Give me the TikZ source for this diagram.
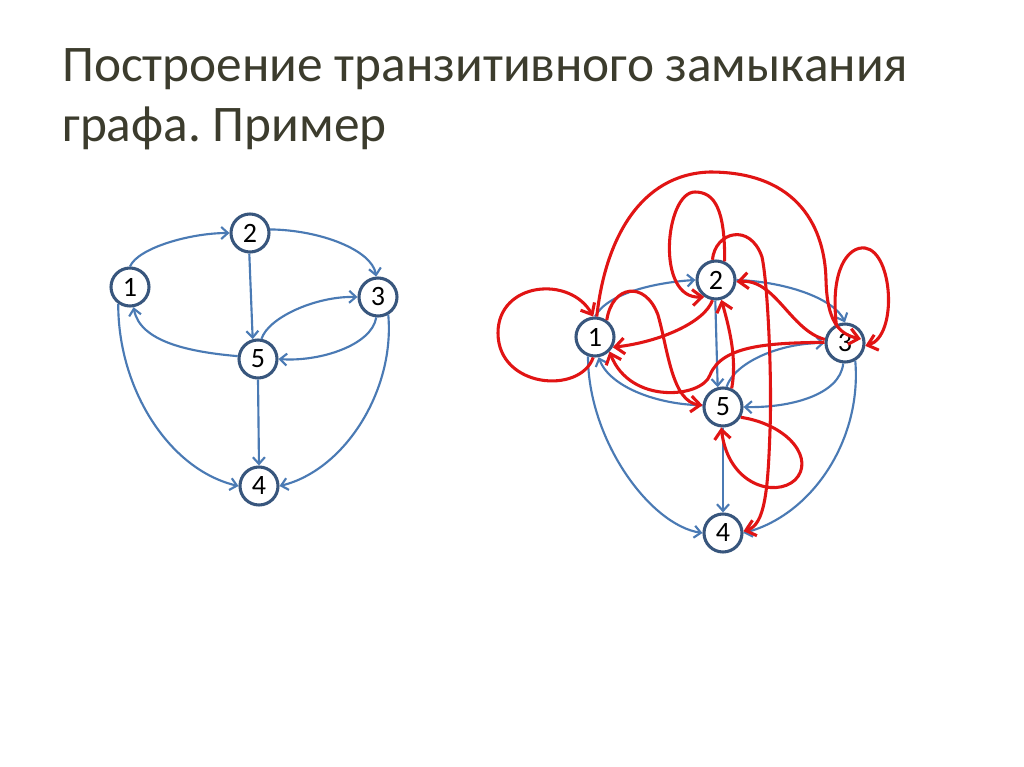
\documentclass[tikz,border=0pt]{standalone}
\usepackage{fontspec}
\setmainfont{Carlito}
\usetikzlibrary{arrows.meta}
\definecolor{titlecol}{RGB}{60,60,45}
\definecolor{nodecol}{RGB}{56,86,125}
\definecolor{edgeblue}{RGB}{74,122,180}
\definecolor{edgered}{RGB}{225,20,20}
\frenchspacing
\begin{document}
\begin{tikzpicture}[x=0.75pt,y=-0.75pt,
  vert/.style={circle,draw=nodecol,line width=2.3pt,fill=white,minimum size=28.5pt,inner sep=0pt,font=\fontsize{21}{21}\selectfont},
  bl/.style={draw=edgeblue,line width=1.6pt,-{Straight Barb[length=5pt,width=9pt]}},
  rd/.style={draw=edgered,line width=2.3pt,-{Straight Barb[length=7pt,width=12pt]}},
  ttl/.style={anchor=base west,inner sep=0pt,text=titlecol,font=\fontsize{38.5}{45}\selectfont}]
\fill[white] (0,0) rectangle (1024,767);
\path[use as bounding box] (0,0) rectangle (1024,767);

% title
\node[ttl] (t1) at (62,81) {Построение транзитивного замыкания};
\node[ttl] (t2) at (62,142) {графа. Пример};

% left graph
\node[vert] (L1) at (130,287) {1};
\node[vert] (L2) at (250,233) {2};
\node[vert] (L3) at (378,297) {3};
\node[vert] (L5) at (258,359) {5};
\node[vert] (L4) at (259,486) {4};

\draw[bl] (L1.north) .. controls (138,248) and (190,233) .. (L2.west);
\draw[bl] (L2.10) .. controls (320,230) and (372,250) .. (L3.95);
\draw[bl] (L2.268) -- (L5.105);
\draw[bl] (L5.80) .. controls (268,318) and (315,296) .. (L3.west);
\draw[bl] (L3.-95) .. controls (372,345) and (320,362) .. (L5.east);
\draw[bl] (L5.172) .. controls (190,352) and (140,342) .. (L1.-80);
\draw[bl] (L5.south) -- (L4.north);
\draw[bl] (L1.-125) .. controls (118,390) and (170,470) .. (L4.west);
\draw[bl] (L3.-60) .. controls (395,390) and (345,470) .. (L4.east);

% right graph
\node[vert] (R1) at (595,337) {1};
\node[vert] (R2) at (716,280) {2};
\node[vert] (R3) at (845,343) {3};
\node[vert] (R5) at (723,407) {5};
\node[vert] (R4) at (723,533) {4};
\coordinate (r3in) at (861,339);

\draw[bl] (R1.north) .. controls (608,292) and (660,282) .. (R2.west);
\draw[bl] (R2.east) .. controls (790,282) and (835,300) .. (R3.north);
\draw[bl] (R2.268) -- (R5.105);
\draw[bl] (R5.80) .. controls (735,362) and (780,343) .. (R3.west);
\draw[bl] (R3.-95) .. controls (840,395) and (790,408) .. (R5.east);
\draw[bl] (R5.175) .. controls (660,405) and (610,388) .. (R1.-80);
\draw[bl] (R5.south) -- (R4.north);
\draw[bl] (R1.-110) .. controls (588,440) and (650,525) .. (R4.west);
\draw[bl] (R3.-60) .. controls (862,440) and (812,515) .. (R4.east);

% red closure edges
\draw[rd] (R1.-95) .. controls (580,395) and (498,388) .. (498,333)
          .. controls (498,282) and (570,275) .. (R1.95);
\draw[rd] (R1.85) .. controls (605,240) and (640,174) .. (710,172)
          .. controls (800,172) and (825,230) .. (826,280)
          .. controls (827,320) and (838,334) .. (r3in);
\draw[rd] (R3.115) .. controls (830,270) and (848,246) .. (865,248)
          .. controls (893,252) and (898,336) .. (R3.-8);
\draw[rd] (R3.170) .. controls (790,330) and (775,278) .. (R2.-5);
\draw[rd] (R3.178) .. controls (770,343) and (722,345) .. (710,375)
          .. controls (702,398) and (630,405) .. (R1.-45);
\draw[rd] (R2.-100) .. controls (705,322) and (660,342) .. (R1.-30);
\draw[rd] (R1.55) .. controls (612,285) and (645,280) .. (658,315)
          .. controls (668,350) and (672,402) .. (R5.175);
\draw[rd] (R5.-30) .. controls (790,425) and (815,460) .. (795,480)
          .. controls (775,498) and (728,485) .. (R5.-95);
\draw[rd] (R2.100) .. controls (715,232) and (750,222) .. (762,257)
          .. controls (768,285) and (772,380) .. (770,430)
          .. controls (768,490) and (765,525) .. (R4.5);
\draw[rd] (R2.65) .. controls (725,210) and (715,192) .. (695,192)
          .. controls (665,192) and (655,300) .. (R2.-125);
\draw[rd] (R5.65) .. controls (737,360) and (730,330) .. (R2.-75);
\end{tikzpicture}
\end{document}
